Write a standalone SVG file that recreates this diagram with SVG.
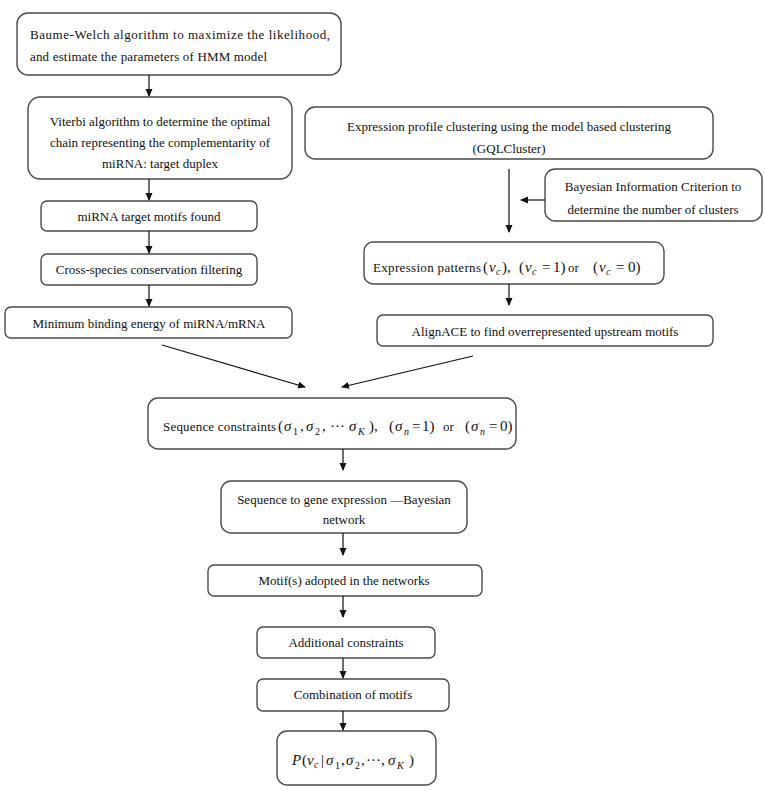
<svg xmlns="http://www.w3.org/2000/svg" width="765" height="791" viewBox="0 0 765 791">
<defs>
<marker id="ah" markerWidth="8" markerHeight="8" refX="7" refY="4" orient="auto" markerUnits="userSpaceOnUse">
<path d="M0,0.5 L8,4 L0,7.5 Z" fill="#111"/>
</marker>
<style>
.box{fill:#fff;stroke:#4a4a4a;stroke-width:1.4}
.t{font-family:"Liberation Serif","Times New Roman",serif;font-size:13px;fill:#111}
.c{text-anchor:middle}
.m{font-size:15px}
.i{font-style:italic}
.s{font-size:10px}
.con line{stroke:#111;stroke-width:1.2;marker-end:url(#ah)}
</style>
</defs>
<rect width="765" height="791" fill="#fff"/>

<g id="n1">
<rect class="box" x="17" y="13" width="324" height="62" rx="11"/>
<text class="t" x="30" y="39" textLength="300" lengthAdjust="spacing">Baume-Welch algorithm to maximize the likelihood,</text>
<text class="t" x="30" y="61" textLength="237" lengthAdjust="spacing">and estimate the parameters of HMM model</text>
</g>
<g id="n2">
<rect class="box" x="28" y="97" width="264" height="82" rx="12"/>
<text class="t c" x="160" y="126">Viterbi algorithm to determine the optimal</text>
<text class="t c" x="160" y="147">chain representing the complementarity of</text>
<text class="t c" x="160" y="168">miRNA: target duplex</text>
</g>
<g id="n3">
<rect class="box" x="41" y="201" width="216" height="30" rx="6"/>
<text class="t c" x="149" y="221">miRNA target motifs found</text>
</g>
<g id="n4">
<rect class="box" x="41" y="254" width="216" height="31" rx="6"/>
<text class="t c" x="149" y="274">Cross-species conservation filtering</text>
</g>
<g id="n5">
<rect class="box" x="5" y="307" width="287" height="31" rx="6"/>
<text class="t c" x="149" y="328">Minimum binding energy of miRNA/mRNA</text>
</g>

<g id="n6">
<rect class="box" x="305" y="107" width="408" height="52" rx="10"/>
<text class="t c" x="509" y="131">Expression profile clustering using the model based clustering</text>
<text class="t c" x="509" y="153">(GQLCluster)</text>
</g>
<g id="n7">
<rect class="box" x="545" y="169" width="217" height="52" rx="10"/>
<text class="t c" x="653" y="191">Bayesian Information Criterion to</text>
<text class="t c" x="653" y="214">determine the number of clusters</text>
</g>
<g id="n8">
<rect class="box" x="364" y="242" width="300" height="42" rx="9"/>
<text class="t" x="373" y="272" textLength="108" lengthAdjust="spacing">Expression patterns</text>
<text class="t m"><tspan x="483" y="272">(</tspan><tspan class="i" x="489" y="272">v</tspan><tspan class="s i" x="496" y="275">c</tspan><tspan x="502" y="272">),</tspan><tspan x="519" y="272">(</tspan><tspan class="i" x="525" y="272">v</tspan><tspan class="s i" x="532" y="275">c</tspan><tspan x="542" y="272">=</tspan><tspan x="553" y="272">1)</tspan></text>
<text class="t" x="568" y="272">or</text>
<text class="t m"><tspan x="593" y="272">(</tspan><tspan class="i" x="599" y="272">v</tspan><tspan class="s i" x="606" y="275">c</tspan><tspan x="616" y="272">=</tspan><tspan x="628" y="272">0)</tspan></text>
</g>
<g id="n9">
<rect class="box" x="377" y="315" width="336" height="31" rx="6"/>
<text class="t c" x="545" y="336">AlignACE to find overrepresented upstream motifs</text>
</g>

<g id="n10">
<rect class="box" x="148" y="398" width="368" height="51" rx="10"/>
<text class="t" x="163" y="431" textLength="113" lengthAdjust="spacing">Sequence constraints</text>
<text class="t m"><tspan x="278" y="431">(</tspan><tspan class="i" x="284" y="431">σ</tspan><tspan class="s" x="293" y="435">1</tspan><tspan x="300" y="431">,</tspan><tspan class="i" x="306" y="431">σ</tspan><tspan class="s" x="315" y="435">2</tspan><tspan x="322" y="431">,</tspan><tspan x="330" y="431">···</tspan><tspan class="i" x="349" y="431">σ</tspan><tspan class="s i" x="358" y="435">K</tspan><tspan x="369" y="431">),</tspan><tspan x="389" y="431">(</tspan><tspan class="i" x="395" y="431">σ</tspan><tspan class="s i" x="404" y="435">n</tspan><tspan x="412" y="431">=</tspan><tspan x="422" y="431">1)</tspan><tspan x="465" y="431">(</tspan><tspan class="i" x="471" y="431">σ</tspan><tspan class="s i" x="480" y="435">n</tspan><tspan x="489" y="431">=</tspan><tspan x="500" y="431">0)</tspan></text>
<text class="t" x="443" y="431">or</text>
</g>
<g id="n11">
<rect class="box" x="221" y="481" width="246" height="52" rx="10"/>
<text class="t c" x="344" y="504">Sequence to gene expression —Bayesian</text>
<text class="t c" x="344" y="524">network</text>
</g>
<g id="n12">
<rect class="box" x="208" y="565" width="274" height="31" rx="6"/>
<text class="t c" x="344" y="585">Motif(s) adopted in the networks</text>
</g>
<g id="n13">
<rect class="box" x="257" y="627" width="178" height="31" rx="6"/>
<text class="t c" x="346" y="647">Additional constraints</text>
</g>
<g id="n14">
<rect class="box" x="257" y="679" width="192" height="32" rx="6"/>
<text class="t c" x="353" y="699">Combination of motifs</text>
</g>
<g id="n15">
<rect class="box" x="277" y="731" width="159" height="54" rx="10"/>
<text class="t m"><tspan class="i" x="292" y="765">P</tspan><tspan x="302" y="765">(</tspan><tspan class="i" x="307" y="765">v</tspan><tspan class="s i" x="314" y="768">c</tspan><tspan x="321" y="765">|</tspan><tspan class="i" x="326" y="765">σ</tspan><tspan class="s" x="335" y="769">1</tspan><tspan x="341" y="765">,</tspan><tspan class="i" x="346" y="765">σ</tspan><tspan class="s" x="355" y="769">2</tspan><tspan x="361" y="765">,</tspan><tspan x="366" y="765">···,</tspan><tspan class="i" x="388" y="765">σ</tspan><tspan class="s i" x="397" y="769">K</tspan><tspan x="409" y="765">)</tspan></text>
</g>

<g id="connectors" class="con">
<line x1="149" y1="75" x2="149" y2="96"/>
<line x1="149" y1="179" x2="149" y2="200"/>
<line x1="149" y1="231" x2="149" y2="253"/>
<line x1="149" y1="285" x2="149" y2="306"/>
<line x1="162" y1="345" x2="305" y2="387"/>
<line x1="473" y1="356" x2="342" y2="387"/>
<line x1="509" y1="169" x2="509" y2="232"/>
<line x1="545" y1="200" x2="521" y2="200"/>
<line x1="509" y1="284" x2="509" y2="305"/>
<line x1="343" y1="449" x2="343" y2="470"/>
<line x1="343" y1="533" x2="343" y2="555"/>
<line x1="343" y1="596" x2="343" y2="617"/>
<line x1="343" y1="658" x2="343" y2="678"/>
<line x1="343" y1="711" x2="343" y2="730"/>
</g>
</svg>
